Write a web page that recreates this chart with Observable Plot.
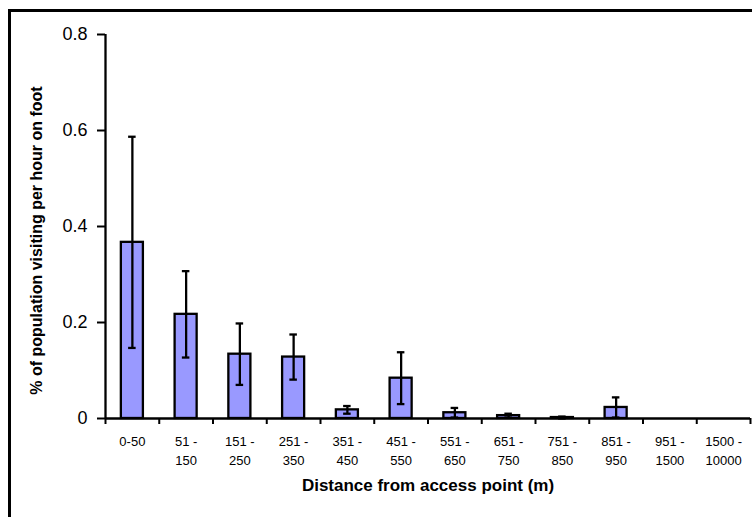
<!DOCTYPE html>
<html>
<head>
<meta charset="utf-8">
<script src="https://cdn.jsdelivr.net/npm/d3@7"></script>
<script src="https://cdn.jsdelivr.net/npm/@observablehq/plot@0.6"></script>
<style>
  html, body { margin: 0; padding: 0; background: #fff; overflow: hidden; }
  #wrap { position: relative; width: 752px; height: 517px; overflow: hidden; }
  #frame { position: absolute; left: 8px; top: 9px; width: 800px; height: 600px; border: 3px solid #000; box-sizing: border-box; pointer-events: none; }
  svg { position: absolute; left: 0; top: 0; }
</style>
</head>
<body>
<div id="wrap"><div id="frame"></div></div>
<script>
const categories = ["0-50", "51 -\n150", "151 -\n250", "251 -\n350", "351 -\n450", "451 -\n550", "551 -\n650", "651 -\n750", "751 -\n850", "851 -\n950", "951 -\n1500", "1500 -\n10000"];
const values = [0.367, 0.217, 0.134, 0.128, 0.018, 0.084, 0.012, 0.006, 0.002, 0.023, 0, 0];
const errors = [0.220, 0.090, 0.064, 0.047, 0.008, 0.054, 0.010, 0.004, 0.002, 0.021, 0, 0];
const yTicks = [0, 0.2, 0.4, 0.6, 0.8];

const data = categories.map((c, i) => ({
  cat: c, i, value: values[i],
  lo: Math.max(0, values[i] - errors[i]), hi: values[i] + errors[i], err: errors[i]
}));
const withErr = data.filter(d => d.err > 0);
const barHalf = 0.205, capHalf = 0.07;
const font = "Liberation Sans, Arial, sans-serif";

const chart = Plot.plot({
  width: 752, height: 517,
  marginLeft: 105, marginRight: 2, marginTop: 34, marginBottom: 99,
  style: { fontFamily: font, background: "transparent", color: "#000" },
  x: { domain: [0, categories.length], axis: null },
  y: { domain: [0, 0.8], axis: null },
  marks: [
    Plot.axisY({ ticks: yTicks, tickSize: 8, tickPadding: 10, fontSize: 18, strokeWidth: 2, label: null, letterSpacing: "1px", tickFormat: d => d === 0 ? "0" : d3.format(".1f")(d) }),
    Plot.axisX({ ticks: d3.range(categories.length + 1), tickSize: 6, strokeWidth: 2, tickFormat: () => "", label: null }),
    Plot.rectY(data.filter(d => d.value > 0), { x1: d => d.i + 0.5 - barHalf, x2: d => d.i + 0.5 + barHalf, y1: 0, y2: "value", fill: "#9999FF", stroke: "#000", strokeWidth: 2.3 }),
    Plot.ruleX(withErr, { x: d => d.i + 0.5, y1: "lo", y2: "hi", stroke: "#000", strokeWidth: 2.3 }),
    Plot.ruleY(withErr, { y: "hi", x1: d => d.i + 0.5 - capHalf, x2: d => d.i + 0.5 + capHalf, stroke: "#000", strokeWidth: 2.3 }),
    Plot.ruleY(withErr, { y: "lo", x1: d => d.i + 0.5 - capHalf, x2: d => d.i + 0.5 + capHalf, stroke: "#000", strokeWidth: 2.3 }),
    Plot.ruleX([0], { y1: 0, y2: 0.8, stroke: "#000", strokeWidth: 2.3 }),
    Plot.ruleY([0], { x1: 0, x2: categories.length, stroke: "#000", strokeWidth: 2.3 }),
    Plot.text(data, { x: d => d.i + 0.5, y: 0, text: "cat", dy: 14, lineAnchor: "top", fontSize: 13, letterSpacing: "0.3px", lineHeight: 1.45, fill: "#000" }),
    Plot.text(["Distance from access point (m)"], { frameAnchor: "bottom", dy: 72, fontSize: 17, fontWeight: "bold", fill: "#000", letterSpacing: "0.5px", text: d => d }),
    Plot.text(["% of population visiting per hour on foot"], { frameAnchor: "left", textAnchor: "middle", dx: -69, dy: 14, rotate: -90, fontSize: 16, fontWeight: "bold", fill: "#000", letterSpacing: "0.4px", text: d => d })
  ]
});
document.getElementById("wrap").prepend(chart);
</script>
</body>
</html>
